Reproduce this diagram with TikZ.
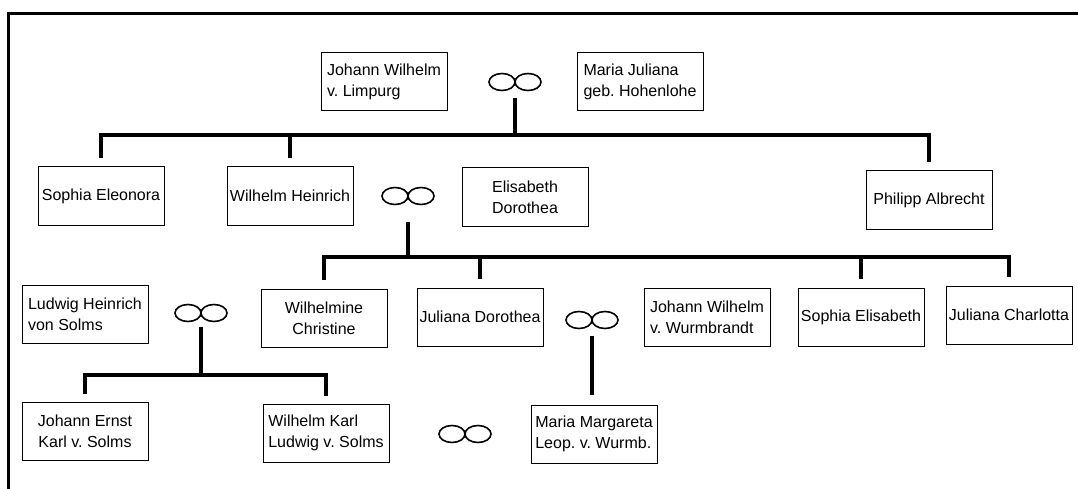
\documentclass[tikz,border=0pt]{standalone}
\usepackage{fontspec}
\setmainfont{Liberation Sans}
\frenchspacing
\tikzstyle{every node}=[font=\fontsize{16}{21}\selectfont]

\begin{document}
\begin{tikzpicture}[x=1pt, y=-1pt,
    person/.style={
        draw=black,
        line width=1pt,
        minimum width=126pt,
        minimum height=58pt,
        inner sep=1pt,
        align=center},
    lperson/.style={
        person,
        align=left},
    wed/.style={
        minimum width=53pt,
        minimum height=17pt,
        inner sep=0pt,
        append after command={\pgfextra{
            \draw[line width=1.6pt]
              ([xshift=-13pt]\tikzlastnode.center) ellipse [x radius=13pt, y radius=8.5pt]
              ([xshift=13pt]\tikzlastnode.center) ellipse [x radius=13pt, y radius=8.5pt];}}},
    link/.style={
        line width=3.2pt},
    frame/.style={
        line width=3pt}
  ]
  \useasboundingbox (0,0) rectangle (1078,489);
  \draw[frame] (8.5,489) -- (8.5,13.5) -- (1078,13.5);
  % Parents
  \node[lperson] (jwl) at (384,82) {Johann Wilhelm\\v. Limpurg};
  \node[wed] (w1) at (515,82) {};
  \node[lperson] (mj) at (640,82) {Maria Juliana\\geb. Hohenlohe};
  % Children
  \node[person] (se) at (101,196) {Sophia Eleonora};
  \node[lperson] (wh) at (290,196) {Wilhelm Heinrich};
  \node[wed] (w2) at (408,196) {};
  \node[lperson] (ed) at (525,197) {Elisabeth\\Dorothea};
  \node[person] (pa) at (929,200) {Philipp Albrecht};
  % Grandchildren and spouses
  \node[lperson] (lh) at (85,314) {Ludwig Heinrich\\von Solms};
  \node[wed] (w3) at (201,313) {};
  \node[person] (wc) at (324,318) {Wilhelmine\\Christine};
  \node[person] (jd) at (480,317) {Juliana Dorothea};
  \node[wed] (w5) at (592,320) {};
  \node[lperson] (jww) at (707,317) {Johann Wilhelm\\v. Wurmbrandt};
  \node[person] (sel) at (861,317) {Sophia Elisabeth};
  \node[person] (jc) at (1009,315) {Juliana Charlotta};
  % Great-grandchildren
  \node[person] (je) at (85,431) {Johann Ernst\\Karl v. Solms};
  \node[lperson] (wk) at (326,433) {Wilhelm Karl\\Ludwig v. Solms};
  \node[wed] (w4) at (465,434) {};
  \node[lperson] (mm) at (594,434) {Maria Margareta\\Leop. v. Wurmb.};
  % Lines
  \coordinate (j1) at (w1 |- 0,135);
  \coordinate (j2) at (w2 |- 0,257);
  \coordinate (j3) at (w3 |- 0,375);
  \draw[link, shorten <=7pt] (w1.south) -- (j1);
  \foreach \kid in {se,wh,pa}
    \draw[link, shorten >=8pt] (j1) -| (\kid.north);
  \draw[link, shorten <=17pt] (w2.south) -- (j2);
  \foreach \kid in {wc,jd,sel,jc}
    \draw[link, shorten >=9pt] (j2) -| (\kid.north);
  \draw[link, shorten <=5pt] (w3.south) -- (j3);
  \foreach \kid in {je,wk}
    \draw[link, shorten >=8pt] (j3) -| (\kid.north);
  \draw[link, shorten <=7pt, shorten >=10pt] (w5.south) -- (w5.south |- mm.north);
\end{tikzpicture}
\end{document}
